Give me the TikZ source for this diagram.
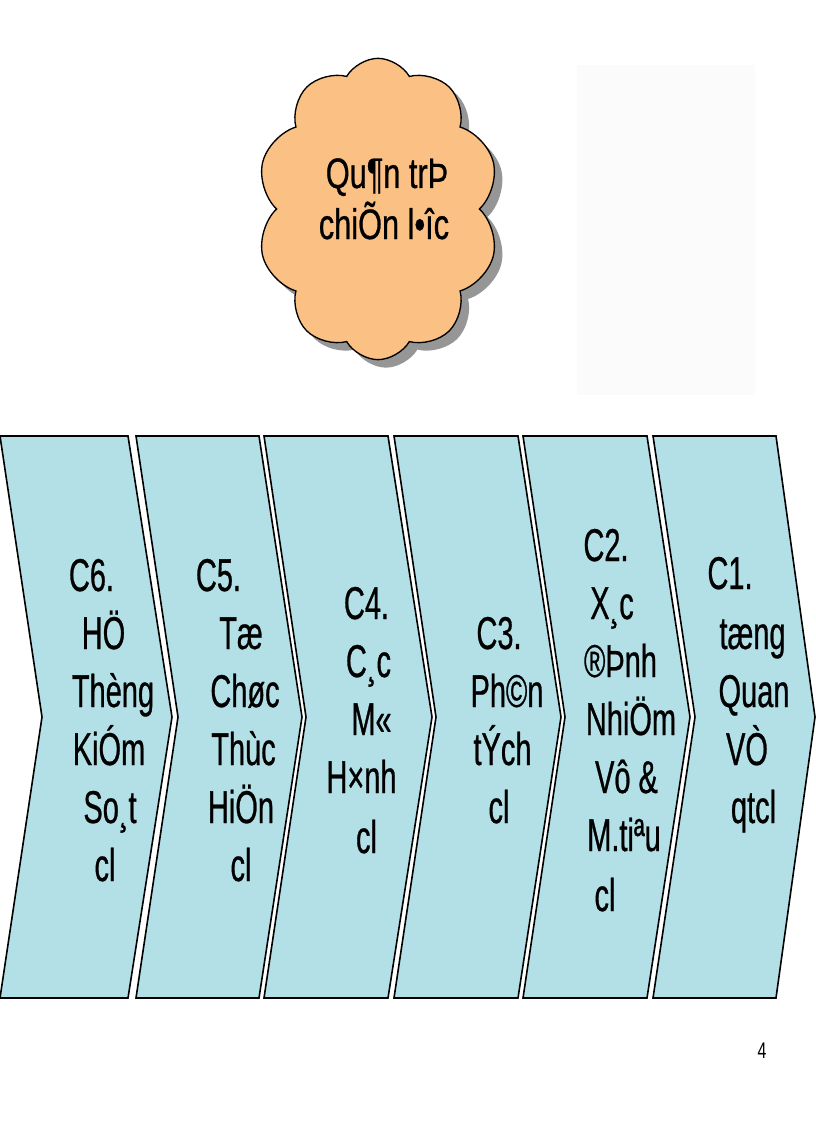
\documentclass[tikz,border=0pt]{standalone}
\usepackage{fontspec}
\setmainfont{Liberation Sans}
\newfontfamily\chevfont[FakeStretch=0.63,FakeBold=0.6]{Liberation Sans}
\newfontfamily\cloudfont[FakeStretch=0.72,FakeBold=0.6]{Liberation Sans}
\newfontfamily\pgfont[FakeStretch=0.7]{Liberation Sans}
\usetikzlibrary{shapes.symbols,shadows}
\definecolor{chevfill}{RGB}{178,224,230}
\definecolor{cloudfill}{RGB}{250,192,132}
\definecolor{shadowgray}{RGB}{150,150,150}
\begin{document}
\begin{tikzpicture}[x=0.75pt,y=-0.75pt,
  chev/.style={fill=chevfill,draw=black,line width=1.2pt,line join=miter},
  chevtop/.style={draw=black,line width=2pt},
  lbl/.style={anchor=base,inner sep=0pt,font=\chevfont\fontsize{34.5}{40}\selectfont},
  cltxt/.style={anchor=base,inner sep=0pt,font=\cloudfont\fontsize{32}{37}\selectfont},
  pagenum/.style={anchor=base,inner sep=0pt,font=\pgfont\fontsize{17}{20}\selectfont}]
\useasboundingbox (0,0) rectangle (816,1123);

% faint background patch (top right)
\fill[black!1.5] (577,65) rectangle (755,395);

% cloud
\node[cloud, cloud puffs=10, cloud puff arc=120, cloud ignores aspect,
      fill=cloudfill, draw=black, line width=1pt,
      minimum width=182pt, minimum height=226pt,
      drop shadow={shadow xshift=6pt, shadow yshift=-6pt, fill=shadowgray, opacity=1}]
      (cloud) at (378,209) {};
\node[cltxt] (q1) at (387,188) {Qu¶n trÞ};
\node[cltxt] (q2) at (384,239) {chiÕn l•îc};

% chevrons
\foreach \tl/\tr/\tip/\nt in {0/128/172/42, 136/259/302/178, 264/388/432/306,
                               394/518/561/436, 523/647/690/565, 653/776/815/695}{
  \draw[chev] (\tl,436) -- (\tr,436) -- (\tip,717) -- (\tr,998) -- (\tl,998) -- (\nt,717) -- cycle;
  \draw[chevtop] (\tl,436) -- (\tr,436);
}

% C6
\node[lbl] (c6a) at (91.5,591) {C6.};
\node[lbl] (c6b) at (103.5,649) {HÖ};
\node[lbl] (c6c) at (113,707) {Thèng};
\node[lbl] (c6d) at (109,765) {KiÓm};
\node[lbl] (c6e) at (110,823) {So¸t};
\node[lbl] (c6f) at (105,881) {cl};
% C5
\node[lbl] (c5a) at (218.5,591) {C5.};
\node[lbl] (c5b) at (241,649) {Tæ};
\node[lbl] (c5c) at (245,707) {Chøc};
\node[lbl] (c5d) at (243.5,765) {Thùc};
\node[lbl] (c5e) at (241,823) {HiÖn};
\node[lbl] (c5f) at (241,881) {cl};
% C4
\node[lbl] (c4a) at (366.5,619) {C4.};
\node[lbl] (c4b) at (368.5,677) {C¸c};
\node[lbl] (c4c) at (371.5,735) {M«};
\node[lbl] (c4d) at (361.5,793) {H×nh};
\node[lbl] (c4e) at (366.5,853) {cl};
% C3
\node[lbl] (c3a) at (499,649) {C3.};
\node[lbl] (c3b) at (507,707) {Ph©n};
\node[lbl] (c3c) at (502.5,765) {tÝch};
\node[lbl] (c3d) at (499,823) {cl};
% C2
\node[lbl] (c2a) at (606,561) {C2.};
\node[lbl] (c2b) at (612,619) {X¸c};
\node[lbl] (c2c) at (620.5,677) {®Þnh};
\node[lbl] (c2d) at (631,735) {NhiÖm};
\node[lbl] (c2e) at (626.5,793) {Vô \&};
\node[lbl] (c2f) at (624,851) {M.tiªu};
\node[lbl] (c2g) at (605,911) {cl};
% C1
\node[lbl] (c1a) at (730,589) {C1.};
\node[lbl] (c1b) at (752.5,649) {tæng};
\node[lbl] (c1c) at (754,707) {Quan};
\node[lbl] (c1d) at (747,765) {VÒ};
\node[lbl] (c1e) at (753.5,823) {qtcl};

% page number
\node[pagenum] (pg) at (762,1058) {4};
\end{tikzpicture}
\end{document}
